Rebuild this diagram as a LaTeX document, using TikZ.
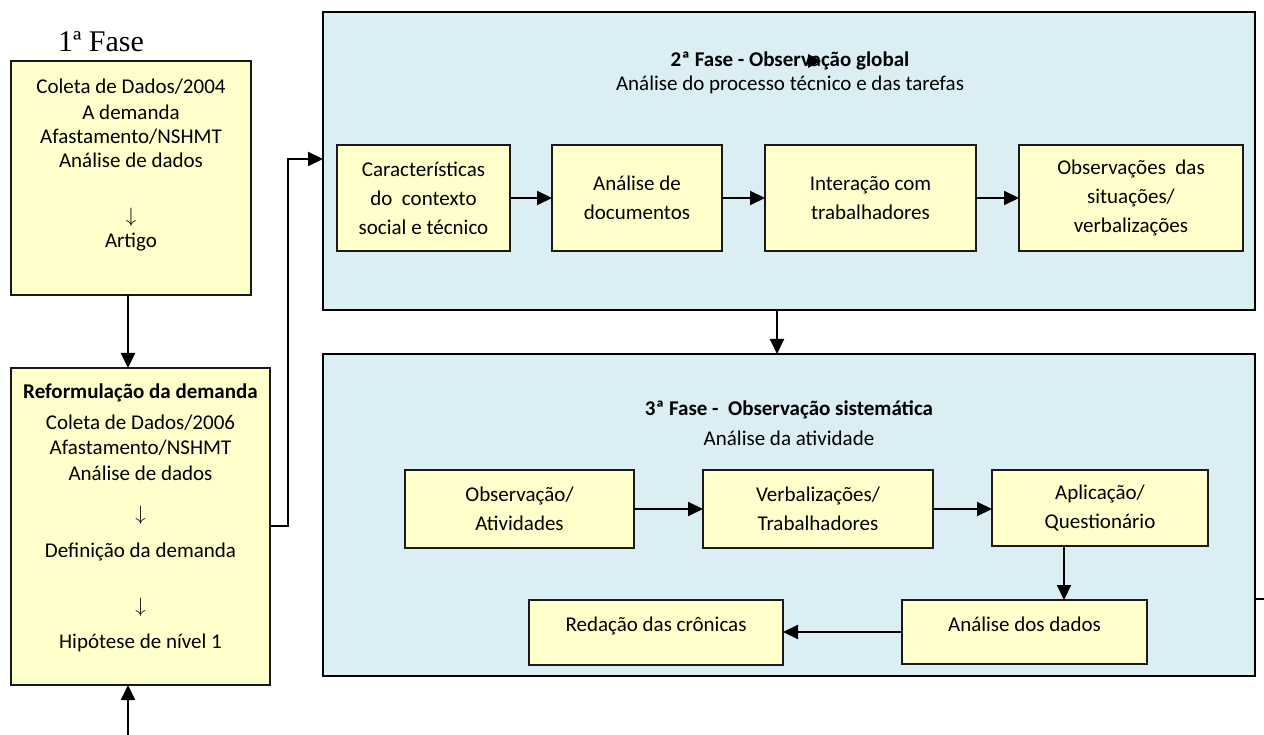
\documentclass[tikz,border=0pt]{standalone}
\usepackage{fontspec}
\setmainfont{Carlito}
\newfontfamily\tnr{Liberation Serif}
\usetikzlibrary{arrows.meta}
\definecolor{phbl}{HTML}{DAEEF3}
\definecolor{ybx}{HTML}{FFFFCC}
\begin{document}
\begin{tikzpicture}[x=1pt,y=-1pt,
  every node/.style={font=\fontsize{21}{29}\selectfont, inner sep=0pt, outer sep=0pt, text=black},
  phasebox/.style={draw=black, line width=2pt, fill=phbl, anchor=north west},
  ybox/.style={draw=black!90, line width=2.5pt, fill=ybx, anchor=north west, align=center},
  arr/.style={draw=black, line width=2pt, -{Triangle[length=15pt,width=14pt]}},
  plain/.style={draw=black, line width=2pt},
  ttl/.style={font=\bfseries\fontsize{21}{29}\selectfont}]
\path[use as bounding box] (0,0) rectangle (1264,735);
% phase boxes
\node[phasebox, minimum width=932pt, minimum height=298pt] (ph2) at (323,12) {};
\node[phasebox, minimum width=932pt, minimum height=322pt] (ph3) at (323,354) {};
% phase 1 label
\node[font=\tnr\fontsize{30}{34}\selectfont] (ph1lab) at (101,42) {1ª Fase};
% phase 1 boxes
\node[ybox, minimum width=240pt, minimum height=234pt] (box1) at (11,61) {};
\node[ybox, minimum width=259pt, minimum height=317pt] (box2) at (11,368) {};
\node (b1a) at (131,87) {Coleta de Dados/2004};
\node (b1b) at (131,112) {A demanda};
\node (b1c) at (131,137) {Afastamento/NSHMT};
\node (b1d) at (131,160) {Análise de dados};
\node (b1e) at (131,217) {$\downarrow$};
\node (b1f) at (131,242) {Artigo};
\node[ttl] (b2a) at (140.5,393) {Reformulação da demanda};
\node (b2b) at (140.5,423) {Coleta de Dados/2006};
\node (b2c) at (140.5,448) {Afastamento/NSHMT};
\node (b2d) at (140.5,473) {Análise de dados};
\node (b2e) at (140.5,515) {$\downarrow$};
\node (b2f) at (140.5,552) {Definição da demanda};
\node (b2g) at (140.5,607) {$\downarrow$};
\node (b2h) at (140.5,643) {Hipótese de nível 1};
% phase 2 titles
\node[ttl] (ph2t) at (790,61) {2ª Fase - Observação global};
\node (ph2s) at (790,85) {Análise do processo técnico e das tarefas};
\fill (808,54) -- (821,61) -- (808,68) -- cycle;
% phase 2 inner boxes
\node[ybox, minimum width=173pt, minimum height=106pt] (A) at (337,145) {Características\\do\ \ contexto\\social e técnico};
\node[ybox, minimum width=170pt, minimum height=106pt] (B) at (552,145) {Análise de\\documentos};
\node[ybox, minimum width=211pt, minimum height=106pt] (C) at (765,145) {Interação com\\trabalhadores};
\node[ybox, minimum width=224pt, minimum height=106pt] (D) at (1019,145) {Observações\ \ das\\situações/\\verbalizações};
% phase 3 titles
\node[ttl] (ph3t) at (789,410) {3ª Fase -\ \ Observação sistemática};
\node (ph3s) at (789,438) {Análise da atividade};
% phase 3 inner boxes
\node[ybox, minimum width=229pt, minimum height=78pt] (E) at (405,470) {Observação/\\Atividades};
\node[ybox, minimum width=230pt, minimum height=78pt] (F) at (703,470) {Verbalizações/\\Trabalhadores};
\node[ybox, minimum width=216pt, minimum height=76pt] (G) at (992,470) {Aplicação/\\Questionário};
\node[ybox, minimum width=245pt, minimum height=64pt] (H) at (902,600) {};
\node[ybox, minimum width=254pt, minimum height=65pt] (I) at (529,600) {};
\node (Ht) at (1024.5,624) {Análise dos dados};
\node (It) at (656,626) {Redação das crônicas};
% helper coordinates
\coordinate (c128) at (128,0);
\coordinate (k1) at (288,526);
\coordinate (k2) at (288,159);
\coordinate (k3) at (777,0);
\coordinate (k4) at (1064,0);
\coordinate (bot) at (128,735);
\coordinate (rstub) at (1264,599);
% connectors
\draw[arr] (box1.south -| c128) -- (box2.north -| c128);
\draw[arr] (bot) -- (box2.south -| bot);
\draw[arr] (box2.east |- k1) -| (k2) -- (ph2.west |- k2);
\draw[arr] (ph2.south -| k3) -- (ph3.north -| k3);
\draw[arr] (A.east) -- (B.west);
\draw[arr] (B.east) -- (C.west);
\draw[arr] (C.east) -- (D.west);
\draw[arr] (E.east) -- (F.west |- E.east);
\draw[arr] (F.east |- E.east) -- (G.west |- E.east);
\draw[arr] (G.south -| k4) -- (H.north -| k4);
\draw[arr] (H.west) -- (I.east |- H.west);
\draw[plain] (ph3.east |- rstub) -- (rstub);
\end{tikzpicture}
\end{document}
